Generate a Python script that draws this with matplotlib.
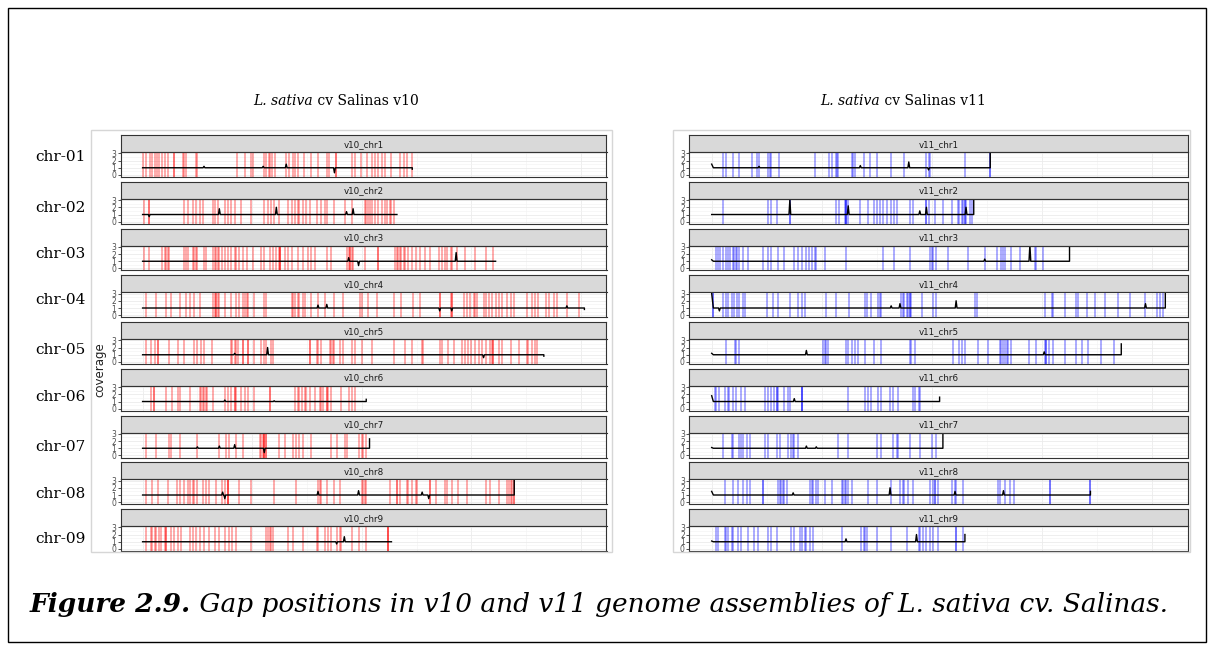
import matplotlib
matplotlib.use("Agg")
import matplotlib.pyplot as plt
from matplotlib.patches import Rectangle
import numpy as np

W, H = 1214, 650

# ── Data (positions in Mb) ────────────────────────────────────────────────────

CHROMS = ["chr1", "chr2", "chr3", "chr4", "chr5", "chr6", "chr7", "chr8", "chr9"]
ROW_LABELS = ["chr-01", "chr-02", "chr-03", "chr-04", "chr-05", "chr-06", "chr-07", "chr-08", "chr-09"]

V10_LENGTHS = [246, 232, 322, 403, 366, 204, 207, 339, 227]
V11_LENGTHS = [253, 238, 325, 412, 372, 207, 210, 344, 230]

# repeated values = several gaps on top of each other (darker line)
V10_GAPS = [
    [0, 3, 7, 8.5, 11, 13, 15, 18, 20, 23, 29, 29, 37, 38, 40, 49, 50, 86, 93, 99, 101, 111, 113, 115,
     116, 118, 121, 131, 134, 137, 139, 142, 147, 154, 160, 168, 170, 176, 176, 191, 194, 199, 205,
     209, 212, 215, 218, 221, 227, 235, 238, 241, 246],
    [1.5, 6, 6, 38, 41, 46, 49, 52, 55, 64, 66, 69, 75, 78, 81, 84, 90, 99, 111, 114, 117, 120, 124,
     133, 136, 139, 142, 143, 146, 149, 153, 159, 163, 166, 168, 175, 185, 191, 203, 204, 206, 207,
     209, 212, 215, 218, 221, 223, 226, 227, 229],
    [1.5, 6, 18, 20, 21, 23, 24, 38, 40, 41, 46, 47, 49, 50, 56, 58, 64, 66, 67, 69, 70, 72, 75, 78,
     81, 84, 85, 88, 92, 95, 101, 108, 111, 116, 119, 122, 124, 125, 125, 125, 130, 133, 136, 142,
     146, 151, 154, 157, 168, 172, 186, 188, 189, 189, 191, 192, 203, 215, 215, 230, 232, 233, 235,
     236, 238, 239, 242, 246, 249, 253, 258, 262, 270, 273, 276, 278, 281, 282, 287, 294, 303, 313, 320],
    [3, 12, 21, 26, 34, 40, 43, 47, 52, 64, 66, 67, 67, 69, 70, 75, 81, 85, 88, 92, 93, 95, 96, 102,
     111, 113, 136, 137, 139, 142, 143, 146, 148, 154, 160, 166, 175, 183, 198, 200, 206, 214, 229,
     236, 247, 253, 271, 271, 281, 282, 282, 293, 296, 299, 302, 303, 305, 311, 313, 316, 319, 322,
     325, 328, 332, 336, 339, 351, 355, 358, 361, 368, 371, 375, 378, 387, 398],
    [3, 8, 11, 14, 14, 24, 32, 38, 47, 50, 53, 56, 63, 81, 82, 84, 85, 87, 92, 92, 96, 96, 102, 108,
     111, 113, 117, 119, 153, 153, 159, 160, 163, 171, 172, 174, 175, 180, 183, 191, 194, 200, 209,
     229, 239, 246, 255, 256, 271, 273, 279, 284, 291, 294, 297, 300, 303, 307, 310, 313, 317, 319,
     320, 320, 325, 328, 336, 343, 351, 352, 355, 358, 360],
    [8, 10, 10, 21, 27, 32, 34, 43, 52, 53, 55, 56, 58, 59, 64, 75, 78, 81, 84, 84, 85, 90, 93, 96,
     102, 116, 116, 139, 142, 143, 145, 148, 149, 153, 157, 162, 163, 165, 168, 168, 169, 172, 181,
     188, 191, 194],
    [3, 12, 24, 26, 34, 50, 70, 76, 79, 85, 92, 107, 108, 110, 111, 111, 111, 113, 113, 124, 130, 137,
     140, 143, 146, 154, 172, 177, 185, 186, 197, 200, 201, 204],
    [3, 9, 14, 23, 31, 34, 38, 41, 43, 46, 47, 50, 55, 58, 61, 67, 72, 75, 78, 78, 78, 88, 99, 120,
     140, 160, 162, 163, 168, 175, 180, 200, 201, 203, 204, 226, 232, 232, 235, 241, 242, 246, 249,
     250, 262, 262, 268, 276, 278, 282, 288, 296, 313, 317, 325, 332, 334, 336, 337, 339, 339],
    [3, 8, 9, 11, 12, 15, 17, 20, 21, 21, 26, 29, 32, 35, 43, 46, 49, 52, 56, 61, 66, 70, 75, 79, 82,
     85, 99, 113, 114, 116, 117, 119, 133, 137, 146, 159, 160, 166, 169, 172, 177, 180, 181, 191,
     197, 204, 224, 224, 224],
]

V11_GAPS = [
    [10, 13, 19, 25, 37, 41, 43, 51, 53, 54, 61, 94, 107, 109, 113, 114, 115, 127, 128, 130, 138, 144,
     150, 163, 175, 195, 197, 198, 230, 253, 253],
    [10, 51, 54, 59, 71, 71, 113, 116, 121, 122, 122, 122, 124, 135, 142, 147, 150, 153, 156, 159,
     163, 166, 168, 180, 183, 195, 195, 197, 203, 210, 218, 224, 225, 227, 228, 230, 230, 231, 235, 236],
    [4, 6, 8, 10, 13, 15, 17, 19, 20, 22, 23, 25, 28, 33, 47, 51, 54, 60, 66, 75, 78, 82, 86, 88, 91,
     94, 95, 103, 122, 156, 166, 180, 198, 200, 201, 204, 215, 233, 248, 259, 263, 265, 266, 272,
     280, 294, 295, 301],
    [1, 1, 10, 13, 15, 18, 20, 23, 25, 28, 30, 50, 56, 60, 71, 78, 82, 85, 104, 113, 125, 139, 141,
     145, 151, 153, 154, 172, 174, 175, 177, 178, 180, 180, 181, 191, 201, 204, 239, 241, 303, 309,
     310, 321, 331, 333, 341, 348, 357, 369, 380, 394, 404, 407, 410],
    [13, 21, 22, 25, 101, 103, 104, 106, 122, 124, 127, 130, 133, 139, 147, 154, 180, 181, 185, 219,
     225, 227, 230, 242, 251, 262, 263, 265, 266, 268, 269, 272, 288, 295, 303, 304, 304, 306, 310,
     321, 331, 336, 342, 354, 365],
    [3, 4, 7, 12, 15, 16, 19, 22, 27, 30, 48, 51, 54, 57, 59, 59, 60, 66, 69, 71, 82, 82, 82, 124,
     139, 142, 145, 151, 154, 162, 165, 169, 183, 185, 188, 189],
    [10, 18, 19, 25, 27, 28, 32, 35, 48, 51, 59, 62, 69, 72, 74, 75, 78, 115, 124, 150, 154, 165, 168,
     169, 180, 189, 200, 204],
    [12, 19, 24, 28, 32, 35, 47, 47, 60, 62, 63, 65, 66, 68, 89, 91, 92, 95, 97, 103, 109, 118, 119,
     121, 122, 124, 127, 142, 150, 163, 171, 174, 175, 178, 183, 198, 201, 203, 203, 206, 218, 221,
     222, 228, 260, 262, 266, 271, 275, 307, 307, 344, 344],
    [4, 6, 12, 13, 15, 18, 19, 24, 27, 33, 38, 42, 51, 54, 59, 72, 75, 80, 82, 85, 86, 89, 92, 118,
     136, 138, 139, 141, 150, 163, 177, 188, 189, 192, 195, 198, 201, 206, 222, 222, 228],
]

# coverage: baseline 1 with (position, coverage) excursions
V10_PEAKS = [
    [(56, 1.2), (110, 1.2), (131, 1.5), (175, 0.3)],
    [(6, 0.7), (70, 1.8), (122, 2.0), (186, 1.4), (192, 1.8)],
    [(188, 1.5), (197, 0.4), (286, 2.2)],
    [(160, 1.4), (168, 1.5), (271, 0.6), (282, 0.6), (387, 1.3)],
    [(84, 1.2), (114, 2.0), (311, 0.6)],
    [(75, 1.2), (120, 1.1)],
    [(50, 1.2), (70, 1.3), (84, 1.5), (111, 0.4)],
    [(73, 1.4), (75, 0.5), (160, 1.5), (197, 1.6), (255, 1.4), (261, 0.5)],
    [(177, 0.7), (184, 1.7)],
]
V11_PEAKS = [
    [(43, 1.2), (135, 1.3), (179, 1.8), (197, 0.7)],
    [(71, 3.0), (124, 2.2), (189, 1.5), (195, 2.0), (231, 2.0)],
    [(248, 1.3), (289, 3.3)],
    [(7, 0.6), (163, 1.3), (171, 1.6), (222, 2.0), (394, 1.6)],
    [(86, 1.6), (302, 1.4)],
    [(75, 1.4)],
    [(86, 1.3), (95, 1.2)],
    [(74, 1.3), (162, 2.0), (221, 1.5), (265, 1.6)],
    [(122, 1.4), (186, 2.0)],
]
V10_START_COV = [1.0, 1.0, 1.0, 1.0, 1.0, 1.0, 1.0, 1.0, 1.0]
V10_END_COV = [0.8, 1.0, 1.0, 0.8, 0.8, 1.3, 2.3, 3.2, 1.0]
V11_START_COV = [1.5, 1.0, 1.2, 3.0, 1.2, 1.8, 1.1, 1.5, 1.1]
V11_END_COV = [3.5, 3.3, 3.2, 3.3, 2.5, 1.6, 3.3, 1.5, 2.0]

# ── Layout (pixels) ───────────────────────────────────────────────────────────

ROW_STEP = 46.75
STRIP_TOP0 = 135
STRIP_H = 17
PANEL_H = 25
LEFT_X = (120.5, 606.5)
RIGHT_X = (689, 1188)
LABEL_Y_PX = [157, 208, 254, 300, 350, 397, 447, 494, 539]


def fig_rect(x0, y0, x1, y1):
    return [x0 / W, 1 - y1 / H, (x1 - x0) / W, (y1 - y0) / H]


def coverage_trace(length, peaks, start_cov, end_cov):
    xs, ys = [0, 1.5], [start_cov, 1.0]
    for pos, cov in sorted(peaks):
        xs += [pos - 0.8, pos, pos + 0.8]
        ys += [1.0, cov, 1.0]
    xs += [length, length]
    ys += [1.0, end_cov]
    return np.array(xs), np.array(ys)


def draw_facet(fig, xr, row, name, length, gaps, peaks, start_cov, end_cov, xmax, gap_color):
    top = STRIP_TOP0 + ROW_STEP * row
    # strip
    sax = fig.add_axes(fig_rect(xr[0], top, xr[1], top + STRIP_H))
    sax.set_facecolor("#D9D9D9")
    sax.set_xticks([])
    sax.set_yticks([])
    for sp in sax.spines.values():
        sp.set_color("#333333")
        sp.set_linewidth(0.8)
    sax.text(0.5, 0.45, name, ha="center", va="center", fontsize=6.3,
             color="#1A1A1A", transform=sax.transAxes)

    ax = fig.add_axes(fig_rect(xr[0], top + STRIP_H, xr[1], top + STRIP_H + PANEL_H))
    ax.set_xlim(-0.05 * xmax, 1.05 * xmax)
    ax.set_ylim(-0.28, 3.18)
    ax.set_xticks(np.arange(0, xmax + 1, 100))
    ax.set_xticks(np.arange(50, xmax + 1, 100), minor=True)
    ax.set_yticks([0, 1, 2, 3])
    ax.set_yticks([0.5, 1.5, 2.5], minor=True)
    ax.grid(True, which="major", color="#EBEBEB", lw=0.6)
    ax.grid(True, which="minor", color="#F2F2F2", lw=0.4)
    ax.set_axisbelow(True)
    ax.tick_params(axis="x", which="both", length=0, labelbottom=False)
    ax.tick_params(axis="y", which="minor", length=0)
    ax.tick_params(axis="y", which="major", length=2, width=0.6, color="#333333",
                   labelsize=5.5, labelcolor="#4D4D4D", pad=1)
    for sp in ax.spines.values():
        sp.set_color("#333333")
        sp.set_linewidth(0.8)

    ax.vlines(gaps, 0, 1, transform=ax.get_xaxis_transform(), colors=gap_color,
              alpha=0.4, lw=1.15)
    xs, ys = coverage_trace(length, peaks, start_cov, end_cov)
    ax.plot(xs, ys, color="black", lw=1.0)
    return ax


fig = plt.figure(figsize=(W / 100, H / 100), dpi=100)
fig.patch.set_facecolor("white")

# outer frame and panel boxes
fig.add_artist(Rectangle((8 / W, 1 - 642 / H), 1198 / W, 634 / H, transform=fig.transFigure,
                         fill=False, edgecolor="black", lw=1.0))
fig.add_artist(Rectangle((91 / W, 1 - 552 / H), 521 / W, 422 / H, transform=fig.transFigure,
                         fill=False, edgecolor="#D6D6D6", lw=1.0))
fig.add_artist(Rectangle((673 / W, 1 - 552 / H), 517 / W, 422 / H, transform=fig.transFigure,
                         fill=False, edgecolor="#D6D6D6", lw=1.0))

v10_max = max(V10_LENGTHS)
v11_max = max(V11_LENGTHS)
for i, chrom in enumerate(CHROMS):
    draw_facet(fig, LEFT_X, i, f"v10_{chrom}", V10_LENGTHS[i], V10_GAPS[i], V10_PEAKS[i],
               V10_START_COV[i], V10_END_COV[i], v10_max, "#FF0000")
    draw_facet(fig, RIGHT_X, i, f"v11_{chrom}", V11_LENGTHS[i], V11_GAPS[i], V11_PEAKS[i],
               V11_START_COV[i], V11_END_COV[i], v11_max, "#0000FF")

fig.text(100 / W, 1 - 370 / H, "coverage", rotation=90, ha="center", va="center",
         fontsize=8.5, color="#222222")

serif = "DejaVu Serif"
for lab, y in zip(ROW_LABELS, LABEL_Y_PX):
    fig.text(35 / W, 1 - y / H, lab, ha="left", va="center", fontsize=11, family=serif)

# panel titles with italic species name
for x0, ver in [(253, "v10"), (820, "v11")]:
    t = fig.text(x0 / W, 1 - 105 / H, "L. sativa", style="italic", fontsize=10,
                 family=serif, ha="left", va="baseline")
    fig.add_artist(plt.Annotation(f" cv Salinas {ver}", xy=(1, 0), xycoords=t, va="bottom",
                                  ha="left", fontsize=10, family=serif))

# caption
cap = fig.text(30 / W, 1 - 612 / H, "Figure 2.9.", style="italic", weight="bold",
               fontsize=19, family=serif, ha="left", va="baseline")
fig.add_artist(plt.Annotation(" Gap positions in v10 and v11 genome assemblies of L. sativa cv. Salinas.",
                              xy=(1, 0), xycoords=cap, va="bottom", ha="left",
                              fontsize=19, style="italic", family=serif))

fig.savefig("out.png", dpi=100, facecolor="white")
